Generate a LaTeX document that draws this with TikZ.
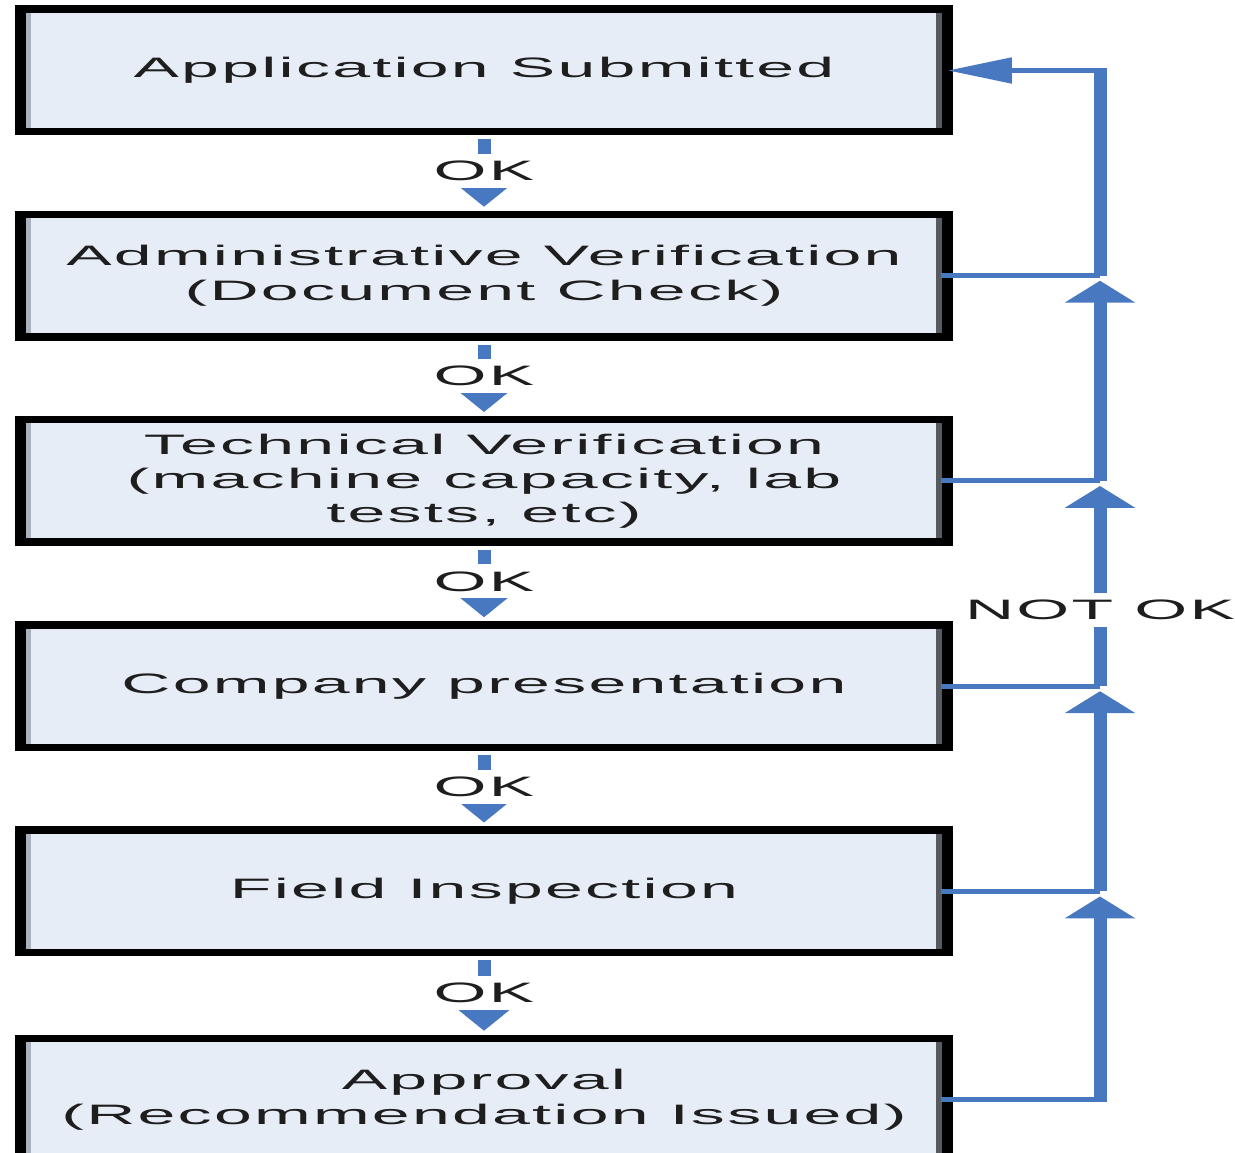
\documentclass[tikz,border=0pt]{standalone}
\usepackage{fontspec}
\setmainfont{Liberation Sans}[FakeStretch=2.42,LetterSpace=8]
\usepackage{xcolor}
\usetikzlibrary{arrows.meta}
\usetikzlibrary{positioning}
\definecolor{flowblue}{HTML}{4878C0}
\definecolor{boxfill}{HTML}{E7EDF7}
\definecolor{boxtext}{HTML}{1E1E1E}
\definecolor{sidegray}{HTML}{A9B1BD}
\definecolor{edgegray}{HTML}{555B61}
\tikzset{
    step_box/.style = {rectangle, draw=black, fill=boxfill, line width=0.15cm, minimum width=18.6cm, minimum height=2.45cm, inner sep=0pt, align=center, text=boxtext, font=\fontsize{16}{19.5}\selectfont,
        path picture={
            \fill[black] (path picture bounding box.south west) rectangle ([xshift=0.14cm]path picture bounding box.north west);
            \fill[sidegray] ([xshift=0.14cm]path picture bounding box.south west) rectangle ([xshift=0.24cm]path picture bounding box.north west);
            \fill[black] ([xshift=-0.14cm]path picture bounding box.south east) rectangle (path picture bounding box.north east);
            \fill[edgegray] ([xshift=-0.26cm]path picture bounding box.south east) rectangle ([xshift=-0.14cm]path picture bounding box.north east);
        }},
    ok_label/.style = {fill=white, inner sep=0pt, minimum height=0.68cm, text=boxtext, font=\fontsize{16}{19.5}\selectfont},
    ok_arrow/.style = {draw=flowblue, line width=0.26cm, -{Triangle[width=1.16cm,length=0.48cm]}, shorten <=0.08cm, shorten >=0.08cm},
    back_line/.style = {draw=flowblue, line width=0.1cm},
    back_trunk/.style = {draw=flowblue, line width=0.26cm, -{Triangle[width=1.4cm,length=0.44cm]}, shorten >=0.1cm}
}

\begin{document}
\begin{tikzpicture}[node distance=1.505cm]
    \useasboundingbox (0,0) rectangle (24.7,23.06);

    \node [step_box] (b1) at (9.68,21.65) {Application Submitted};
    \node [step_box, below=of b1] (b2) {Administrative Verification\\(Document Check)};
    \node [step_box, below=of b2] (b3) {Technical Verification\\(machine capacity, lab\\tests, etc)};
    \node [step_box, below=of b3] (b4) {Company presentation};
    \node [step_box, below=of b4] (b5) {Field Inspection};
    \node [step_box, below=of b5, yshift=-0.06cm] (b6) {Approval\\(Recommendation Issued)};

    \foreach \i/\j in {1/2,2/3,3/4,4/5,5/6}
        \draw [ok_arrow] (b\i.south) -- node [ok_label, pos=0.47] {OK} (b\j.north);

    \coordinate (trunk) at (22,0);
    \foreach \i in {2,...,6}
        \draw [back_line, shorten <=-0.23cm] (b\i.east) -- (b\i.east -| trunk) coordinate (j\i);
    \coordinate (j1) at (b1.east -| trunk);

    \draw [back_trunk, shorten <=-0.05cm] (j6) -- (j5);
    \draw [back_trunk] (j5) -- (j4);
    \draw [back_trunk] (j4) -- node [ok_label, pos=0.37] {NOT OK} (j3);
    \draw [back_trunk] (j3) -- (j2);
    \draw [draw=flowblue, line width=0.26cm, shorten >=-0.05cm] (j2) -- (j1);
    \draw [back_line, -{Triangle[width=0.5cm,length=1.28cm]}, shorten >=-0.1cm] (j1) -- (b1.east);
\end{tikzpicture}
\end{document}
